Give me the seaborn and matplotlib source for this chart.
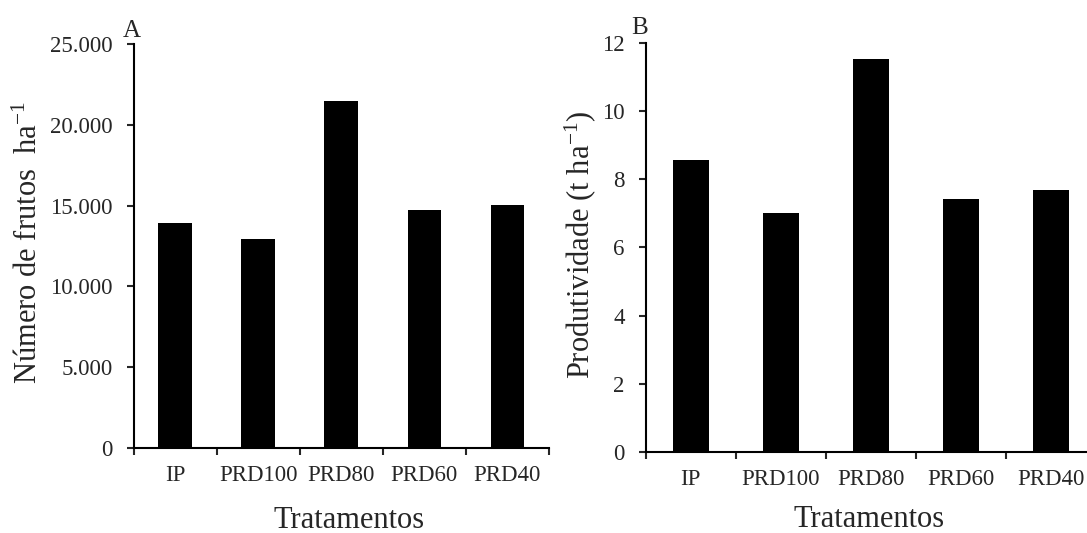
import matplotlib
matplotlib.use('Agg')
import matplotlib.pyplot as plt
import seaborn as sns
import pandas as pd

# Data
tratamentos = ['IP', 'PRD100', 'PRD80', 'PRD60', 'PRD40']
num_frutos = [13950, 12970, 21510, 14730, 15050]
produtividade = [8.55, 7.00, 11.53, 7.42, 7.68]

ticks_a = [0, 5000, 10000, 15000, 20000, 25000]
ticklabels_a = ['0', '5.000', '10.000', '15.000', '20.000', '25.000']
ticks_b = [0, 2, 4, 6, 8, 10, 12]

sns.set_style('ticks')
plt.rcParams['font.family'] = ['Liberation Serif', 'DejaVu Serif']
plt.rcParams['mathtext.fontset'] = 'custom'
plt.rcParams['mathtext.rm'] = 'Liberation Serif'
plt.rcParams['mathtext.it'] = 'Liberation Serif:italic'
plt.rcParams['axes.unicode_minus'] = False

df_a = pd.DataFrame({'trat': tratamentos, 'val': num_frutos})
df_b = pd.DataFrame({'trat': tratamentos, 'val': produtividade})

fig = plt.figure(figsize=(10.87, 5.33), dpi=100)
ax_a = fig.add_axes([0.1229, 0.1595, 0.3818, 0.7575])
ax_b = fig.add_axes([0.594, 0.152, 0.414, 0.768])


def style_axis(ax, df, ylim, yticks, yticklabels):
    sns.barplot(data=df, x='trat', y='val', color='black', width=0.4,
                saturation=1, linewidth=0, ax=ax, errorbar=None)
    ax.set_xlim(-0.5, len(tratamentos) - 0.5)
    ax.set_ylim(*ylim)
    # boundary ticks (marks only) and centred labels on minor ticks
    ax.set_xticks([i - 0.5 for i in range(len(tratamentos) + 1)])
    ax.set_xticklabels([])
    ax.set_xticks(range(len(tratamentos)), minor=True)
    ax.set_xticklabels(tratamentos, minor=True)
    ax.tick_params(axis='x', which='major', length=5, width=1.5, direction='out')
    ax.tick_params(axis='x', which='minor', length=0, pad=12, labelsize=16.5)
    ax.set_yticks(yticks)
    ax.set_yticklabels(yticklabels)
    ax.tick_params(axis='y', length=5, width=1.5, pad=10, labelsize=16.5)
    sns.despine(ax=ax)
    for s in ['left', 'bottom']:
        ax.spines[s].set_linewidth(1.5)
        ax.spines[s].set_color('black')
    ax.spines['bottom'].set_clip_on(False)


style_axis(ax_a, df_a, (0, 25000), ticks_a, ticklabels_a)
style_axis(ax_b, df_b, (0, 12), ticks_b, [str(t) for t in ticks_b])

ax_a.set_xlabel('Tratamentos', fontsize=22)
ax_a.set_ylabel(r'Número de frutos  ha$^{-1}$', fontsize=22)
ax_a.xaxis.set_label_coords(0.519, -0.143)
ax_a.yaxis.set_label_coords(-0.215, 0.508)
ax_a.text(-0.025, 1.018, 'A', transform=ax_a.transAxes, fontsize=18,
          ha='left', va='baseline')

ax_b.set_xlabel('Tratamentos', fontsize=22)
ax_b.set_ylabel(r'Produtividade (t ha$^{-1}$)', fontsize=22)
ax_b.xaxis.set_label_coords(0.496, -0.130)
ax_b.yaxis.set_label_coords(-0.105, 0.505)
ax_b.text(-0.033, 1.021, 'B', transform=ax_b.transAxes, fontsize=18,
          ha='left', va='baseline')

fig.savefig('out.png', dpi=100, facecolor='white')
